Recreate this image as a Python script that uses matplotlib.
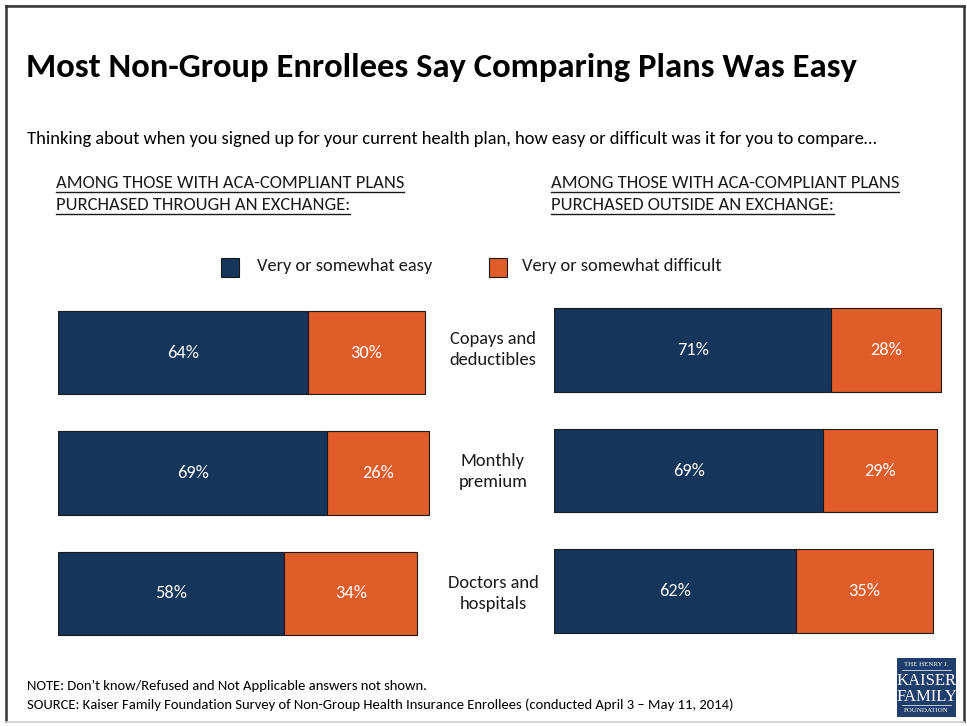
import matplotlib
matplotlib.use("Agg")
import matplotlib.pyplot as plt
from matplotlib.patches import Rectangle
from matplotlib.lines import Line2D

plt.rcParams["font.family"] = ["Carlito", "Lato", "DejaVu Sans"]

# ---- data ----
categories = ["Copays and\ndeductibles", "Monthly\npremium", "Doctors and\nhospitals"]
series_names = ["Very or somewhat easy", "Very or somewhat difficult"]
exchange_easy = [64, 69, 58]
exchange_difficult = [30, 26, 34]
outside_easy = [71, 69, 62]
outside_difficult = [28, 29, 35]

NAVY = "#15355A"
ORANGE = "#E05D29"
W, H = 967, 726

fig = plt.figure(figsize=(W / 100, H / 100), dpi=100)
fig.patch.set_facecolor("white")


def fx(x):
    return x / W


def fy(y):
    return 1 - y / H


def ptext(x, y, s, **kw):
    kw.setdefault("va", "center")
    kw.setdefault("ha", "left")
    return fig.text(fx(x), fy(y), s, **kw)


# ---- frame ----
fig.add_artist(Line2D([fx(5), fx(962)], [fy(4.5), fy(4.5)], color="#c8c8c8", lw=1))
fig.add_artist(Line2D([fx(6), fx(6)], [fy(6), fy(721)], color="#333333", lw=1.8))
fig.add_artist(Line2D([fx(6), fx(964)], [fy(6), fy(6)], color="#333333", lw=1.8))
fig.add_artist(Line2D([fx(964), fx(964)], [fy(6), fy(721)], color="#333333", lw=1.8))
fig.add_artist(Line2D([fx(6), fx(964)], [fy(722), fy(722)], color="#cfcfcf", lw=1.2))

# ---- titles ----
ptext(26, 67.5, "Most Non-Group Enrollees Say Comparing Plans Was Easy",
      fontsize=24.9, fontweight="bold", color="black")
ptext(27, 139, "Thinking about when you signed up for your current health plan, "
      "how easy or difficult was it for you to compare\u2026",
      fontsize=13.3, color="black")

headers = [
    (56, ["AMONG THOSE WITH ACA-COMPLIANT PLANS", "PURCHASED THROUGH AN EXCHANGE:"]),
    (551, ["AMONG THOSE WITH ACA-COMPLIANT PLANS", "PURCHASED OUTSIDE AN EXCHANGE:"]),
]
fig.canvas.draw()
renderer = fig.canvas.get_renderer()
for hx, lines in headers:
    for i, line in enumerate(lines):
        yy = 182.5 + 22 * i
        t = ptext(hx, yy, line, fontsize=13.3, color="#1a1a1a")
        bb = t.get_window_extent(renderer=renderer)
        x0, x1 = bb.x0 / W, bb.x1 / W
        fig.add_artist(Line2D([x0, x1], [fy(yy + 9.5), fy(yy + 9.5)],
                              color="#1a1a1a", lw=1.0))

# ---- legend ----
for (sx, tx), name, col in zip([(221, 257), (489, 522)], series_names, [NAVY, ORANGE]):
    fig.add_artist(Rectangle((fx(sx), fy(277)), 18 / W, 19 / H,
                             facecolor=col, edgecolor="#1a1a1a", lw=0.8,
                             transform=fig.transFigure))
    ptext(tx, 266, name, fontsize=13.3, color="#1a1a1a")

# ---- bar panels ----
PX_PER_PCT = 3.905
row_step = 120.5
panel_w = 100 * PX_PER_PCT


def make_panel(left_px, first_center_px, easy, difficult):
    top = first_center_px - row_step / 2
    ax = fig.add_axes([fx(left_px), fy(top + 3 * row_step), panel_w / W, 3 * row_step / H])
    ypos = list(range(len(categories)))
    ax.barh(ypos, easy, height=0.69, color=NAVY, edgecolor="#1a1a1a", lw=0.8)
    ax.barh(ypos, difficult, left=easy, height=0.69, color=ORANGE,
            edgecolor="#1a1a1a", lw=0.8)
    for y, e, d in zip(ypos, easy, difficult):
        ax.text(e / 2, y, f"{e}%", ha="center", va="center", color="white", fontsize=13.2)
        ax.text(e + d / 2, y, f"{d}%", ha="center", va="center", color="white", fontsize=13.2)
    ax.set_xlim(0, 100)
    ax.set_ylim(2.5, -0.5)
    ax.axis("off")
    return ax


make_panel(58, 352.5, exchange_easy, exchange_difficult)
make_panel(554, 350, outside_easy, outside_difficult)

# category labels between the panels
for i, cat in enumerate(categories):
    ptext(493, 349.5 + 122 * i, cat, ha="center", fontsize=13.3,
          color="#1a1a1a", linespacing=1.45)

# ---- notes ----
ptext(27, 686, "NOTE: Don\u2019t know/Refused and Not Applicable answers not shown.",
      fontsize=10.5, color="black")
ptext(27, 705, "SOURCE: Kaiser Family Foundation Survey of Non-Group Health Insurance "
      "Enrollees (conducted April 3 \u2013 May 11, 2014)", fontsize=10.5, color="black")

# ---- logo ----
LOGO = "#1F3E6C"
fig.add_artist(Rectangle((fx(897), fy(717)), 59 / W, 59 / H, facecolor=LOGO,
                         edgecolor="none", transform=fig.transFigure))
serif = ["Liberation Serif", "DejaVu Serif"]
ptext(926.5, 665, "THE HENRY J.", ha="center", fontsize=5, color="white", family=serif)
fig.add_artist(Line2D([fx(902), fx(951)], [fy(670), fy(670)], color="white", lw=0.5))
ptext(926.5, 681, "KAISER", ha="center", fontsize=12, color="white", family=serif)
ptext(926.5, 697, "FAMILY", ha="center", fontsize=12, color="white", family=serif)
fig.add_artist(Line2D([fx(902), fx(951)], [fy(705), fy(705)], color="white", lw=0.5))
ptext(926.5, 711, "FOUNDATION", ha="center", fontsize=5, color="white", family=serif)

fig.savefig("out.png", dpi=100, facecolor="white")
